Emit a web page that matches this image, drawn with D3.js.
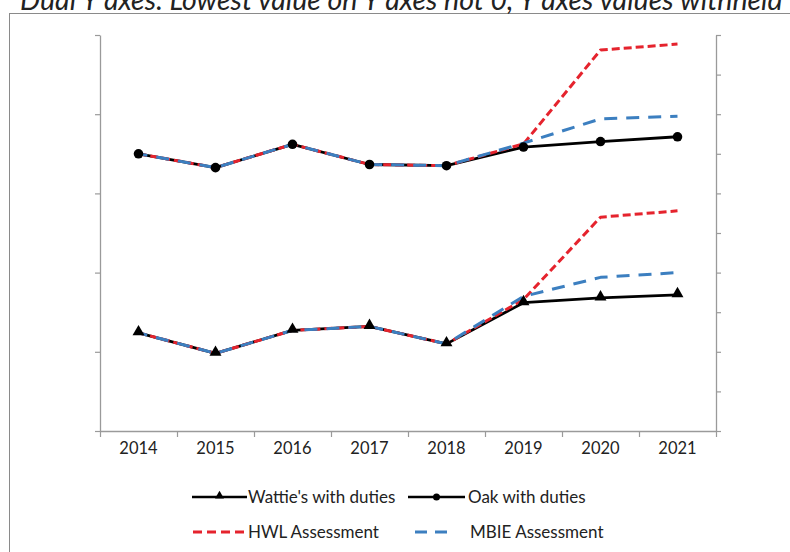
<!DOCTYPE html>
<html>
<head>
<meta charset="utf-8">
<script src="https://cdn.jsdelivr.net/npm/d3@7"></script>
<style>
  html, body { margin: 0; padding: 0; background: #fff; overflow: hidden; }
  svg { display: block; }
</style>
</head>
<body>
<svg id="chart" width="790" height="552"></svg>
<script>
// Years on the category axis
const years = ["2014", "2015", "2016", "2017", "2018", "2019", "2020", "2021"];

// Wattie's group (left axis, values withheld)
const wattieDuties = [1.62, 1.49, 1.635, 1.66, 1.55, 1.81, 1.84, 1.86];
const hwlWattie    = [1.62, 1.49, 1.635, 1.66, 1.55, 1.83, 2.35, 2.39];
const mbieWattie   = [1.62, 1.49, 1.635, 1.66, 1.55, 1.85, 1.97, 2.00];

// Oak group (right axis, values withheld)
const oakDuties = [1.70, 1.665, 1.724, 1.673, 1.67, 1.717, 1.731, 1.743];
const hwlOak    = [1.70, 1.665, 1.724, 1.673, 1.67, 1.725, 1.962, 1.977];
const mbieOak   = [1.70, 1.665, 1.724, 1.673, 1.67, 1.727, 1.788, 1.795];

// Axis tick values (labels are withheld)
const leftTicks  = [1.0, 1.5, 2.0, 2.5, 3.0, 3.5];
const rightTicks = [1.0, 1.1, 1.2, 1.3, 1.4, 1.5, 1.6, 1.7, 1.8, 1.9, 2.0];

const titleText = "Dual Y axes. Lowest value on Y axes not 0, Y axes values withheld";
const legendItems = ["Wattie's with duties", "Oak with duties", "HWL Assessment", "MBIE Assessment"];

const FONT = "Lato, 'Open Sans', sans-serif";
const RED = "#e5232d";
const BLUE = "#3c7fc0";
const AXIS = "#9a9a9a";

const svg = d3.select("#chart");

// Outer frame (runs past the right and bottom edges)
svg.append("rect")
  .attr("x", 10.5).attr("y", 14.5)
  .attr("width", 900).attr("height", 700)
  .attr("fill", "none").attr("stroke", "#d8d8d8").attr("stroke-width", 2);
svg.append("rect")
  .attr("x", 9.5).attr("y", 13.5)
  .attr("width", 900).attr("height", 700)
  .attr("fill", "#fff").attr("stroke", "#8a8a8a").attr("stroke-width", 1);

// Title, running off the top edge of the page
const title = svg.append("text")
  .attr("x", 20).attr("y", 10)
  .attr("font-family", FONT).attr("font-style", "italic")
  .attr("font-size", 24).attr("fill", "#222")
  .text(titleText);
// size so that the opening words span the left half of the page
{
  const probe = svg.append("text").attr("font-family", FONT).attr("font-style", "italic")
    .attr("font-size", 24).text("Dual Y axes. Lowest value on Y a");
  const w = probe.node().getComputedTextLength();
  probe.remove();
  title.attr("font-size", 24 * 380 / w);
}

const plot = { left: 100, right: 716, top: 35, bottom: 431 };

const xBand = d3.scaleBand().domain(years).range([plot.left, plot.right]).padding(0);
const xEdge = d3.scaleLinear().domain([0, years.length]).range([plot.left, plot.right]);
const yLeft = d3.scaleLinear().domain([1.0, 3.5]).range([plot.bottom, plot.top]);
const yRight = d3.scaleLinear().domain([1.0, 2.0]).range([plot.bottom, plot.top]);
const cx = i => xBand(years[i]) + xBand.bandwidth() / 2;

function styleAxis(g) {
  g.selectAll("path.domain").attr("stroke", AXIS).attr("stroke-width", 1.3);
  g.selectAll(".tick line").attr("stroke", AXIS).attr("stroke-width", 1.2);
}

// Left axis
svg.append("g").attr("transform", `translate(${plot.left},0)`)
  .call(d3.axisLeft(yLeft).tickValues(leftTicks).tickFormat("").tickSize(5).tickSizeOuter(0))
  .call(styleAxis);

// Right axis
svg.append("g").attr("transform", `translate(${plot.right},0)`)
  .call(d3.axisRight(yRight).tickValues(rightTicks).tickFormat("").tickSize(5).tickSizeOuter(0))
  .call(styleAxis);

// Bottom axis: tick marks at category boundaries
svg.append("g").attr("transform", `translate(0,${plot.bottom})`)
  .call(d3.axisBottom(xEdge).tickValues(d3.range(years.length + 1)).tickFormat("").tickSize(6).tickSizeOuter(0))
  .call(styleAxis);

// Bottom axis labels at category centres
const xl = svg.append("g").attr("transform", `translate(0,${plot.bottom})`)
  .call(d3.axisBottom(xBand).tickSize(0).tickPadding(11));
xl.select("path.domain").remove();
xl.selectAll("text").attr("font-family", FONT).attr("font-size", 16.5).attr("fill", "#222");

// Line generators
const lineL = d3.line().x((d, i) => cx(i)).y(d => yLeft(d));
const lineR = d3.line().x((d, i) => cx(i)).y(d => yRight(d));

const lines = svg.append("g").attr("fill", "none").attr("stroke-linejoin", "round");

// Solid series
lines.append("path").datum(wattieDuties).attr("d", lineL)
  .attr("stroke", "#000").attr("stroke-width", 2.8);
lines.append("path").datum(oakDuties).attr("d", lineR)
  .attr("stroke", "#000").attr("stroke-width", 2.8);

// Assessment series (dashed)
[[hwlWattie, lineL], [hwlOak, lineR]].forEach(([d, gen]) => {
  lines.append("path").datum(d).attr("d", gen)
    .attr("stroke", RED).attr("stroke-width", 3).attr("stroke-dasharray", "8,4");
});
[[mbieWattie, lineL], [mbieOak, lineR]].forEach(([d, gen]) => {
  lines.append("path").datum(d).attr("d", gen)
    .attr("stroke", BLUE).attr("stroke-width", 3).attr("stroke-dasharray", "13,9")
    .attr("stroke-dashoffset", 4);
});

// Markers
const tri = d3.symbol().type(d3.symbolTriangle).size(62);
svg.append("g").selectAll("path").data(wattieDuties).join("path")
  .attr("d", tri)
  .attr("transform", (d, i) => `translate(${cx(i)},${yLeft(d) - 1})`)
  .attr("fill", "#000");
svg.append("g").selectAll("circle").data(oakDuties).join("circle")
  .attr("cx", (d, i) => cx(i)).attr("cy", d => yRight(d)).attr("r", 4.8)
  .attr("fill", "#000");

// Legend
const lg = svg.append("g").attr("font-family", FONT).attr("font-size", 17).attr("fill", "#222");
const row1 = 497, row2 = 532;

lg.append("line").attr("x1", 192).attr("x2", 247).attr("y1", row1).attr("y2", row1)
  .attr("stroke", "#000").attr("stroke-width", 2.6);
lg.append("path").attr("d", d3.symbol().type(d3.symbolTriangle).size(35))
  .attr("transform", `translate(219.5,${row1 - 1})`).attr("fill", "#000");
lg.append("text").attr("x", 248).attr("y", row1 + 6).text(legendItems[0]);

lg.append("line").attr("x1", 408).attr("x2", 465).attr("y1", row1).attr("y2", row1)
  .attr("stroke", "#000").attr("stroke-width", 2.6);
lg.append("circle").attr("cx", 436.5).attr("cy", row1).attr("r", 3.5).attr("fill", "#000");
lg.append("text").attr("x", 468).attr("y", row1 + 6).text(legendItems[1]);

lg.append("line").attr("x1", 193).attr("x2", 247).attr("y1", row2).attr("y2", row2)
  .attr("stroke", RED).attr("stroke-width", 3).attr("stroke-dasharray", "9,5");
lg.append("text").attr("x", 248).attr("y", row2 + 6).text(legendItems[2]);

lg.append("line").attr("x1", 415).attr("x2", 447).attr("y1", row2).attr("y2", row2)
  .attr("stroke", BLUE).attr("stroke-width", 3).attr("stroke-dasharray", "12,8");
lg.append("text").attr("x", 470).attr("y", row2 + 6).text(legendItems[3]);
</script>
</body>
</html>
